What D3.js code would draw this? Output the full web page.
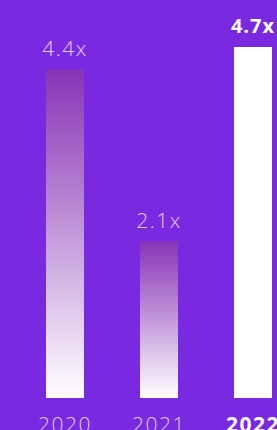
<!DOCTYPE html>
<html><head><meta charset="utf-8">
<script src="https://cdn.jsdelivr.net/npm/d3@7"></script>
<style>html,body{margin:0;padding:0;background:#7929E0;overflow:hidden}</style>
</head><body>
<svg id="c" width="277" height="430"></svg>
<script>
const years = ["2020","2021","2022"];
const values = [4.4, 2.1, 4.7];
const valueLabels = ["4.4x","2.1x","4.7x"];
const highlight = [false, false, true];

const svg = d3.select("#c");
const W = 277, H = 430;
const baseY = 398;
const x = d3.scaleBand().domain(years).range([-1, 319]).paddingInner(0.596).paddingOuter(0.5);
const y = d3.scaleLinear().domain([0, 4.7]).range([baseY, 47]);

const defs = svg.append("defs");
const g = defs.append("linearGradient").attr("id","grad").attr("x1",0).attr("y1",0).attr("x2",0).attr("y2",1);
g.append("stop").attr("offset","0%").attr("stop-color","#8733B5");
g.append("stop").attr("offset","100%").attr("stop-color","#FFFFFF");

svg.append("rect").attr("width",W).attr("height",H).attr("fill","#7929E0");

svg.selectAll("rect.bar").data(years).enter().append("rect")
  .attr("class","bar")
  .attr("x", d => x(d))
  .attr("width", x.bandwidth())
  .attr("y", (d,i) => y(values[i]))
  .attr("height", (d,i) => baseY - y(values[i]))
  .attr("fill", (d,i) => highlight[i] ? "#FFFFFF" : "url(#grad)");

svg.selectAll("text.val").data(years).enter().append("text")
  .attr("x", d => x(d) + x.bandwidth()/2)
  .attr("y", (d,i) => y(values[i]) - (highlight[i] ? 14 : 13))
  .attr("text-anchor","middle")
  .attr("font-family", "'Open Sans', sans-serif")
  .attr("font-weight", (d,i) => highlight[i] ? 700 : 300)
  .attr("font-size", (d,i) => highlight[i] ? "20px" : "21px")
  .attr("letter-spacing", (d,i) => highlight[i] ? "1px" : "1.5px")
  .attr("fill", (d,i) => highlight[i] ? "#FFFFFF" : "#E0D0F4")
  .text((d,i) => valueLabels[i]);

svg.selectAll("text.yr").data(years).enter().append("text")
  .attr("x", d => x(d) + x.bandwidth()/2)
  .attr("y", 432)
  .attr("text-anchor","middle")
  .attr("font-family", "'Open Sans', sans-serif")
  .attr("font-weight", (d,i) => highlight[i] ? 700 : 300)
  .attr("font-size", "21px")
  .attr("letter-spacing", "1.5px")
  .attr("fill", (d,i) => highlight[i] ? "#FFFFFF" : "#E0D0F4")
  .text(d => d);
</script>
</body></html>
